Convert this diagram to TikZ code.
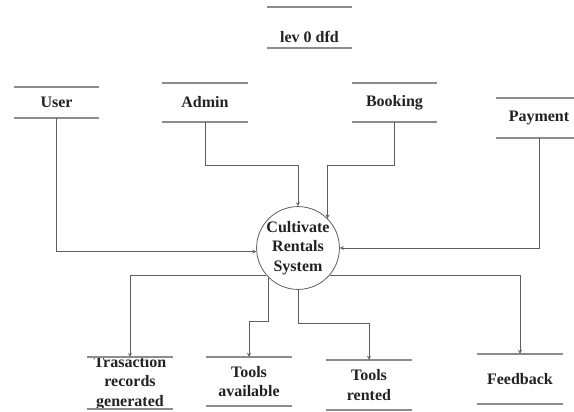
\documentclass[tikz,border=0pt]{standalone}
\usepackage{fontspec}
\setmainfont{Liberation Serif}
\usepackage{tikz}
\usetikzlibrary{shapes.geometric, arrows, positioning, calc}
\definecolor{linegray}{HTML}{5E5E5E}
\definecolor{storegray}{HTML}{8C8C8C}
\definecolor{inkgray}{HTML}{222222}

\begin{document}
\begin{tikzpicture}[
    x=1pt, y=-1pt,
    store/.style={rectangle, minimum width=85pt, inner xsep=0pt, inner ysep=0pt, align=center, text=inkgray, font=\fontsize{16}{19.5}\selectfont\bfseries},
    process/.style={circle, draw=linegray, thick, minimum size=82pt, inner sep=0pt, align=center, text=inkgray, font=\fontsize{16}{19.5}\selectfont\bfseries},
    storeline/.style={-, draw=storegray, line width=1.6pt},
    flow/.style={->, >=stealth, thick, draw=linegray}
]
    \useasboundingbox (0,0) rectangle (574,412);

    % Title
    \node[store, minimum height=41pt, text height=34pt, text depth=4pt] (title) at (309.5,27.5) {lev 0 dfd};

    % External entities
    \node[store, minimum height=31pt] (user) at (56.5,102.5) {User};
    \node[store, minimum height=39pt] (admin) at (205,102.5) {Admin};
    \node[store, minimum height=39pt] (booking) at (394.5,102.5) {Booking};
    \node[store, minimum height=40pt] (payment) at (539,118) {Payment};

    % Process
    \node[process] (sys) at (298,248) {Cultivate\\Rentals\\System};

    % Data stores
    \node[store, minimum height=49pt, inner ysep=-1pt] (trans) at (130,383) {Trasaction\\records\\generated};
    \node[store, minimum height=49pt] (avail) at (249,381.5) {Tools\\available};
    \node[store, minimum height=50pt] (rented) at (369,385) {Tools\\rented};
    \node[store, minimum height=50pt] (feedback) at (520,379) {Feedback};

    % Store lines
    \foreach \s in {title,user,admin,booking,payment,trans,avail,rented,feedback}
        \draw[storeline] (\s.north west) -- (\s.north east) (\s.south west) -- (\s.south east);

    % Inputs
    \draw[flow] (user.south) |- (sys.185);
    \draw[flow] (admin.south) -- ++(0,43) -| (sys.north);
    \draw[flow] (booking.south) -- ++(0,43) -| (sys.north east);
    \draw[flow] (payment.south) |- (sys.east);

    % Outputs
    \draw[flow] (sys.221) -| (trans.north);
    \draw[flow] (sys.south west) -- ++(0,44) -| (avail.north);
    \draw[flow] (sys.south) -- ++(0,34) -| (rented.north);
    \draw[flow] (sys.319) -| (feedback.north);

\end{tikzpicture}
\end{document}
